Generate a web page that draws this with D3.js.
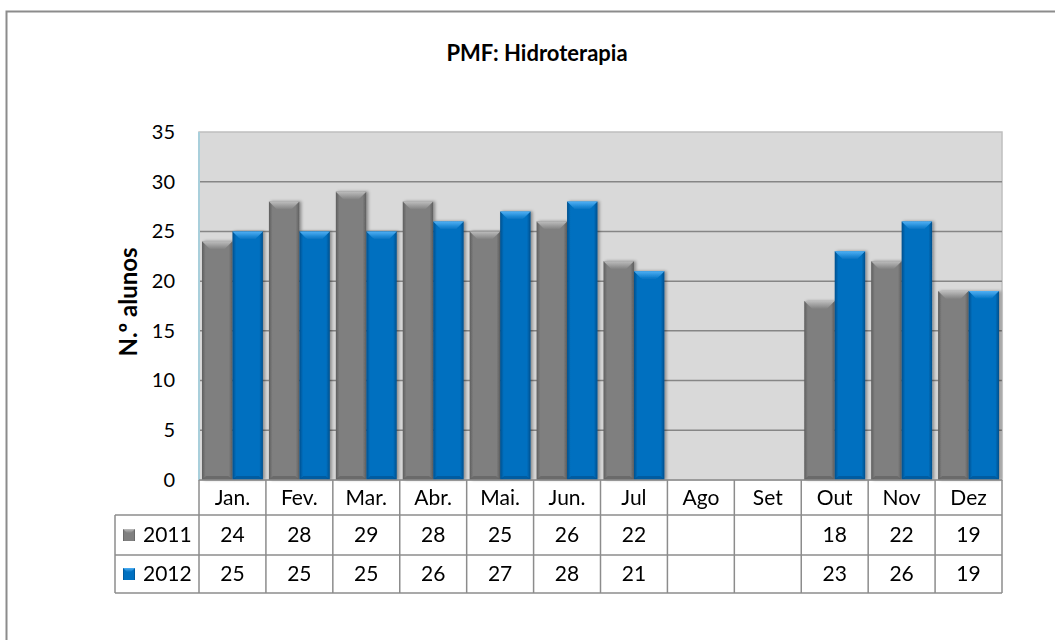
<!DOCTYPE html>
<html lang="pt">
  <head>
    <meta charset="utf-8">
    <title>PMF: Hidroterapia</title>
    <script src="https://d3js.org/d3.v7.min.js"></script>
    <style>
      body { margin: 0; background: #fff; }
      text { font-family: Lato, "Open Sans", sans-serif; fill: #000; }
    </style>
  </head>

  <body>

    <script>

// data

  var months = ["Jan.", "Fev.", "Mar.", "Abr.", "Mai.", "Jun.", "Jul", "Ago", "Set", "Out", "Nov", "Dez"];
  var seriesNames = ["2011", "2012"];
  var values2011 = [24, 28, 29, 28, 25, 26, 22, null, null, 18, 22, 19];
  var values2012 = [25, 25, 25, 26, 27, 28, 21, null, null, 23, 26, 19];
  var yTicks = [0, 5, 10, 15, 20, 25, 30, 35];

  var series = [values2011, values2012];
  var colors = [
    {main: "#7f7f7f", light: "#bdbdbd", dark: "#5e5e5e"},
    {main: "#0070c0", light: "#4fb0f5", dark: "#004f8c"}
  ];

  var W = 1055, H = 640;
  var pLeft = 199, pRight = 1002, pTop = 132, pBottom = 480;
  var rowH = [35, 40, 38];

  var svg = d3.select("body")
    .append("svg")
      .attr("width", W)
      .attr("height", H);

  var defs = svg.append("defs");

  colors.forEach(function (c, i) {
    var g = defs.append("linearGradient").attr("id", "side" + i)
        .attr("x1", 0).attr("x2", 1).attr("y1", 0).attr("y2", 0);
    g.append("stop").attr("offset", "0").attr("stop-color", c.dark);
    g.append("stop").attr("offset", "0.12").attr("stop-color", c.main);
    g.append("stop").attr("offset", "0.88").attr("stop-color", c.main);
    g.append("stop").attr("offset", "1").attr("stop-color", c.dark);

    var t = defs.append("linearGradient").attr("id", "top" + i)
        .attr("x1", 0).attr("x2", 0).attr("y1", 0).attr("y2", 1);
    t.append("stop").attr("offset", "0").attr("stop-color", c.light);
    t.append("stop").attr("offset", "1").attr("stop-color", c.main);
  });

  var shadow = defs.append("filter").attr("id", "shadow")
      .attr("x", "-20%").attr("y", "-10%").attr("width", "150%").attr("height", "120%");
  shadow.append("feDropShadow")
      .attr("dx", 2).attr("dy", 0).attr("stdDeviation", 1.5)
      .attr("flood-color", "#000").attr("flood-opacity", 0.35);

// outer frame

  svg.append("rect")
      .attr("x", 6.5).attr("y", 11.5)
      .attr("width", W + 10).attr("height", H + 10)
      .attr("fill", "none")
      .attr("stroke", "#8c8c8c")
      .attr("stroke-width", 2);

  svg.append("text")
      .attr("x", 537).attr("y", 61)
      .attr("text-anchor", "middle")
      .attr("font-size", 22)
      .attr("font-weight", "bold")
      .text("PMF: Hidroterapia");

// scales

  var x0 = d3.scaleBand()
      .domain(months)
      .range([pLeft, pRight]);

  var x1 = d3.scaleBand()
      .domain(seriesNames)
      .range([3, x0.bandwidth() - 3]);

  var y = d3.scaleLinear()
      .domain([0, 35])
      .range([pBottom, pTop]);

// plot area

  svg.append("rect")
      .attr("x", pLeft).attr("y", pTop)
      .attr("width", pRight - pLeft).attr("height", pBottom - pTop)
      .attr("fill", "#d9d9d9")
      .attr("stroke", "#bfbfbf")
      .attr("stroke-width", 1.5);

  svg.append("g")
      .selectAll("line")
      .data(yTicks.filter(d => d > 0 && d < 35))
      .enter().append("line")
        .attr("x1", pLeft).attr("x2", pRight)
        .attr("y1", d => y(d)).attr("y2", d => y(d))
        .attr("stroke", "#868686")
        .attr("stroke-width", 1.5);

  svg.append("line")
      .attr("x1", pLeft).attr("x2", pLeft)
      .attr("y1", pTop).attr("y2", pBottom)
      .attr("stroke", "#a9cfdb")
      .attr("stroke-width", 2);

  var yAxis = svg.append("g")
      .attr("transform", "translate(" + pLeft + ",0)")
      .call(d3.axisLeft(y).tickValues(yTicks).tickSize(0).tickPadding(24));
  yAxis.select(".domain").remove();
  yAxis.selectAll("text")
      .attr("font-size", 20)
      .attr("font-family", "Lato, sans-serif")
      .attr("fill", "#000");

  svg.append("text")
      .attr("transform", "translate(137," + 302 + ") rotate(-90)")
      .attr("text-anchor", "middle")
      .attr("font-size", 24)
      .attr("font-weight", "bold")
      .text("N.º alunos");

// bars

  var groups = svg.append("g")
      .selectAll("g")
      .data(series)
      .enter().append("g")
        .attr("filter", "url(#shadow)");

  groups.each(function (vals, si) {
    var g = d3.select(this);
    var items = vals.map((v, i) => ({m: months[i], v: v})).filter(d => d.v != null);
    var bar = g.selectAll("g")
        .data(items)
        .enter().append("g");

    bar.append("rect")
        .attr("x", d => x0(d.m) + x1(seriesNames[si]))
        .attr("y", d => y(d.v))
        .attr("width", x1.bandwidth())
        .attr("height", d => y(0) - y(d.v))
        .attr("fill", "url(#side" + si + ")");

    var b = 8;
    bar.append("path")
        .attr("d", function (d) {
          var xa = x0(d.m) + x1(seriesNames[si]), w = x1.bandwidth(), ya = y(d.v);
          return "M" + xa + "," + ya + "H" + (xa + w) + "L" + (xa + w - b) + "," + (ya + b) +
                 "H" + (xa + b) + "Z";
        })
        .attr("fill", "url(#top" + si + ")");

    bar.append("path")
        .attr("d", function (d) {
          var xa = x0(d.m) + x1(seriesNames[si]), w = x1.bandwidth(), yb = y(0);
          return "M" + xa + "," + yb + "H" + (xa + w) + "L" + (xa + w - 4) + "," + (yb - 4) +
                 "H" + (xa + 4) + "Z";
        })
        .attr("fill", colors[si].dark)
        .attr("opacity", 0.6);
  });

// data table

  var tbl = svg.append("g");
  var rows = [pBottom, pBottom + rowH[0], pBottom + rowH[0] + rowH[1], pBottom + rowH[0] + rowH[1] + rowH[2]];
  var tableLeft = 115;
  var stroke = "#8c8c8c";

  tbl.append("line")
      .attr("x1", pLeft).attr("x2", pRight)
      .attr("y1", rows[0]).attr("y2", rows[0])
      .attr("stroke", stroke).attr("stroke-width", 1.5);

  tbl.selectAll("line.h")
      .data(rows.slice(1))
      .enter().append("line")
        .attr("x1", tableLeft).attr("x2", pRight)
        .attr("y1", d => d).attr("y2", d => d)
        .attr("stroke", stroke).attr("stroke-width", 1.5);

  tbl.selectAll("line.v")
      .data(months.map(m => x0(m)).concat([pRight]))
      .enter().append("line")
        .attr("x1", d => d).attr("x2", d => d)
        .attr("y1", rows[0]).attr("y2", rows[3])
        .attr("stroke", stroke).attr("stroke-width", 1.5);

  tbl.append("line")
      .attr("x1", tableLeft).attr("x2", tableLeft)
      .attr("y1", rows[1]).attr("y2", rows[3])
      .attr("stroke", stroke).attr("stroke-width", 1.5);

  tbl.selectAll("text.month")
      .data(months)
      .enter().append("text")
        .attr("x", d => x0(d) + x0.bandwidth() / 2)
        .attr("y", (rows[0] + rows[1]) / 2 + 7)
        .attr("text-anchor", "middle")
        .attr("font-size", 21)
        .text(d => d);

  series.forEach(function (vals, si) {
    var cy = (rows[si + 1] + rows[si + 2]) / 2;

    tbl.selectAll("text.v" + si)
        .data(vals.map((v, i) => ({m: months[i], v: v})).filter(d => d.v != null))
        .enter().append("text")
          .attr("x", d => x0(d.m) + x0.bandwidth() / 2)
          .attr("y", cy + 7)
          .attr("text-anchor", "middle")
          .attr("font-size", 21)
          .text(d => d.v);

    var k = tbl.append("g").attr("transform", "translate(123," + (cy - 6) + ")");
    k.append("rect")
        .attr("width", 12).attr("height", 12)
        .attr("fill", "url(#side" + si + ")");
    k.append("path")
        .attr("d", "M0,0H12L8,4H4Z")
        .attr("fill", "url(#top" + si + ")");

    tbl.append("text")
        .attr("x", 143)
        .attr("y", cy + 7)
        .attr("font-size", 21)
        .text(seriesNames[si]);
  });

    </script>

  </body>

</html>
